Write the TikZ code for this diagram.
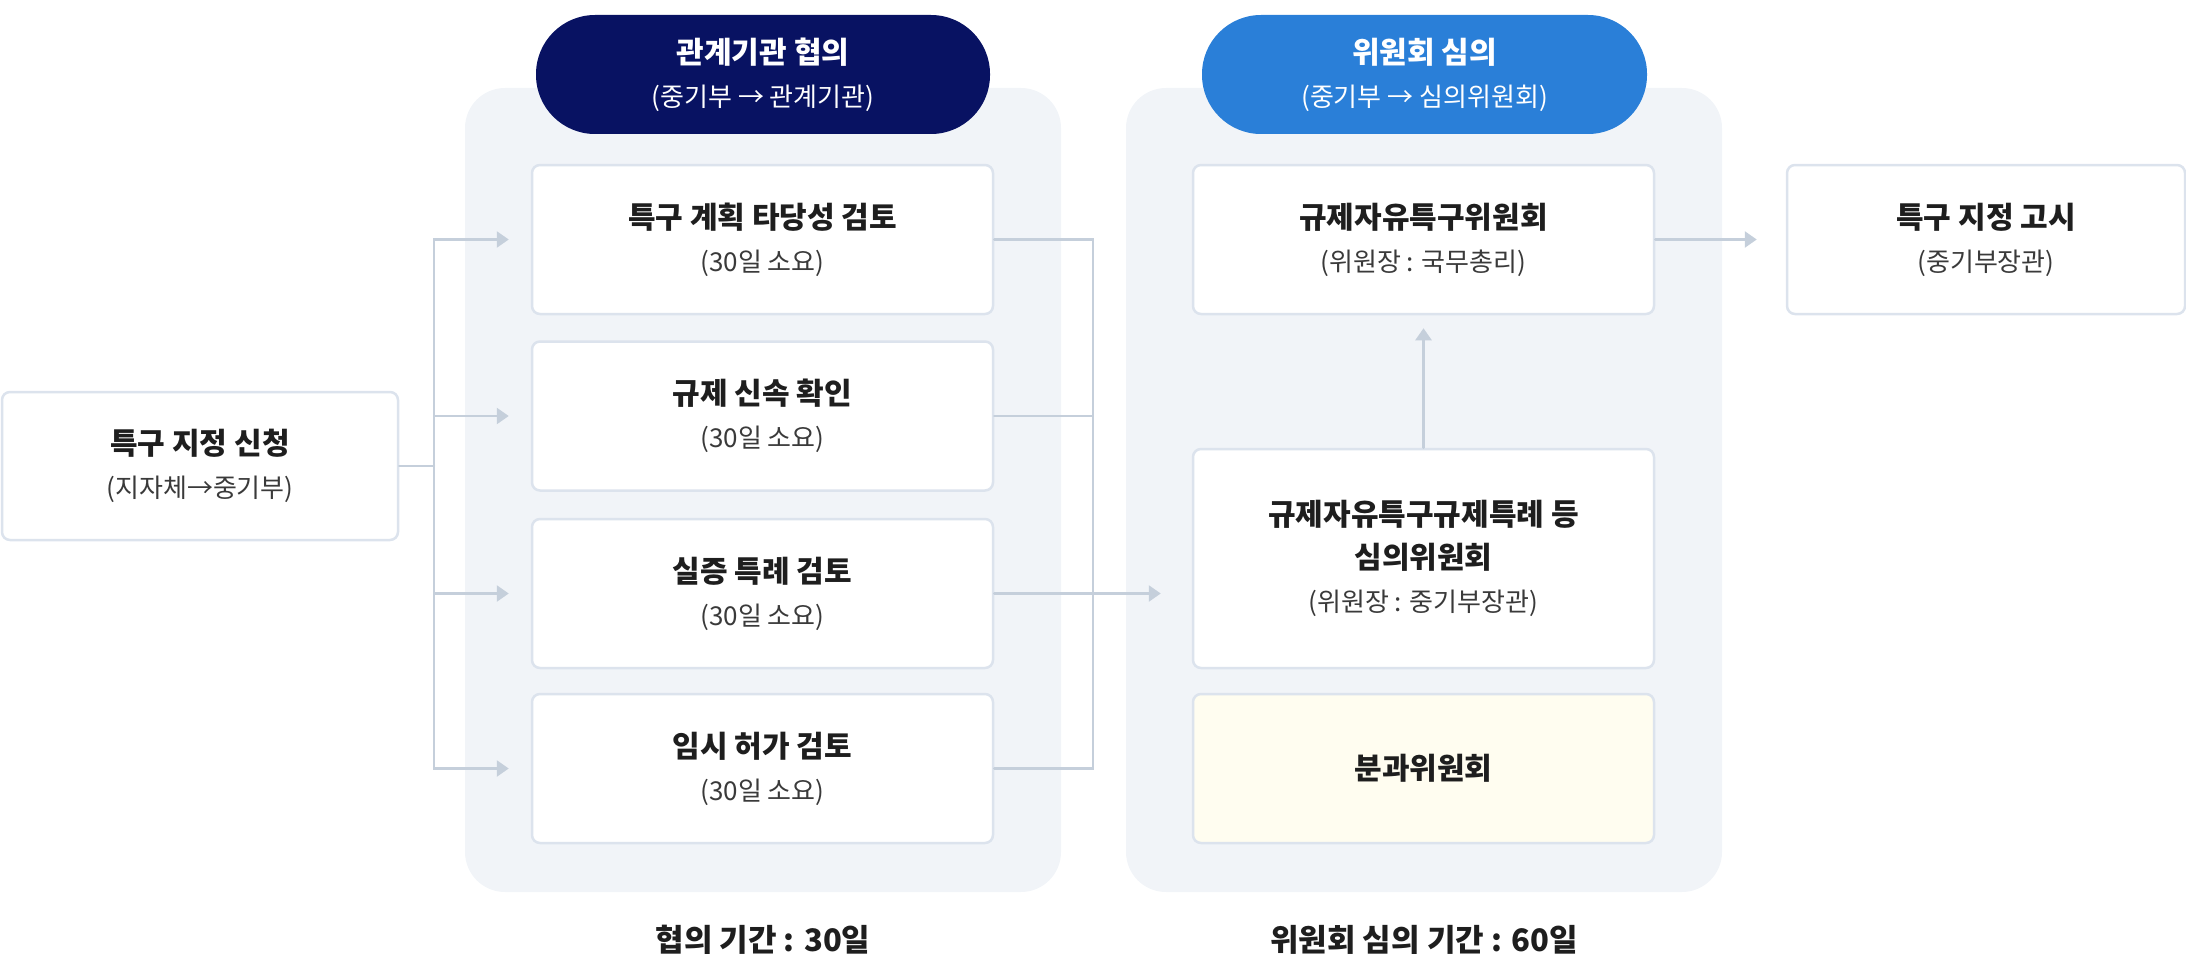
\documentclass[tikz,border=0pt]{standalone}
\usepackage{fontspec}
\setmainfont{Noto Sans CJK KR}
\usetikzlibrary{arrows.meta,positioning}
\definecolor{panelbg}{HTML}{F1F4F8}
\definecolor{cardline}{HTML}{DCE3ED}
\definecolor{linkgray}{HTML}{C5CFDB}
\definecolor{navypill}{HTML}{081262}
\definecolor{bluepill}{HTML}{2A7FD8}
\definecolor{paleyellow}{HTML}{FFFDF0}
\definecolor{inkdark}{HTML}{1E1E1E}
\definecolor{inksub}{HTML}{3A3A3A}
\newcommand{\subtxt}{\mdseries\fontsize{26}{43}\selectfont}

\begin{document}
\begin{tikzpicture}[x=1pt, y=-1pt, line cap=round,
  card/.style={draw=cardline, line width=2.5pt, fill=white, rounded corners=8pt,
    minimum width=461pt, minimum height=149pt, inner sep=0pt, align=center,
    text=inkdark, font=\bfseries\fontsize{30}{43}\selectfont},
  pill/.style={rounded corners=59pt, minimum height=119pt, inner sep=0pt,
    align=center, text=white, font=\bfseries\fontsize{30}{43}\selectfont},
  link/.style={draw=linkgray, line width=2.5pt},
  flow/.style={link, -{Triangle[length=12pt,width=16pt]}}]
  \useasboundingbox (0,0) rectangle (2186,979);

  % Panels
  \fill[panelbg, rounded corners=40pt] (465,88) rectangle (1061,892);
  \fill[panelbg, rounded corners=40pt] (1126,88) rectangle (1722,892);

  % Headers
  \node[pill, fill=navypill, minimum width=454pt] (consult) at (763,74.5)
    {관계기관 협의\\{\subtxt (중기부 → 관계기관)}};
  \node[pill, fill=bluepill, minimum width=445pt] (deliberate) at (1424.5,74.5)
    {위원회 심의\\{\subtxt (중기부 → 심의위원회)}};

  % Cards
  \node[card, minimum width=396pt, minimum height=148pt] (apply) at (200,466)
    {특구 지정 신청\\{\subtxt\color{inksub}(지자체→중기부)}};
  \node[card] (review1) at (762.5,239.5) {특구 계획 타당성 검토\\{\subtxt\color{inksub}(30일 소요)}};
  \node[card] (review2) at (762.5,416) {규제 신속 확인\\{\subtxt\color{inksub}(30일 소요)}};
  \node[card] (review3) at (762.5,593.5) {실증 특례 검토\\{\subtxt\color{inksub}(30일 소요)}};
  \node[card] (review4) at (762.5,768.5) {임시 허가 검토\\{\subtxt\color{inksub}(30일 소요)}};
  \node[card] (rfz) at (1423.5,239.5) {규제자유특구위원회\\{\subtxt\color{inksub}(위원장 : 국무총리)}};
  \node[card, minimum height=219pt] (special) at (1423.5,558.5)
    {규제자유특구규제특례 등\\심의위원회\\{\subtxt\color{inksub}(위원장 : 중기부장관)}};
  \node[card, fill=paleyellow] (subcom) at (1423.5,768.5) {분과위원회};
  \node[card, minimum width=398pt] (notice) at (1986,239.5)
    {특구 지정 고시\\{\subtxt\color{inksub}(중기부장관)}};

  % Connectors
  \coordinate (fork) at (434,466);
  \coordinate (merge) at (1093,593.5);
  \draw[link] (apply.east) -- (fork);
  \foreach \n in {1,...,4} {
    \draw[flow, shorten >=22pt] (fork) |- (review\n.west);
    \draw[link] (review\n.east) -| (merge);
  }
  \draw[flow, shorten >=31pt] (merge) -- (merge -| special.west);
  \draw[flow, shorten >=13pt] (special.north) -- (rfz.south);
  \draw[flow, shorten >=29pt] (rfz.east) -- (notice.west);

  % Periods
  \node[text=inkdark, font=\bfseries\fontsize{31}{36}\selectfont] (period1) at (763,940) {협의 기간 : 30일};
  \node[text=inkdark, font=\bfseries\fontsize{31}{36}\selectfont] (period2) at (1424,940) {위원회 심의 기간 : 60일};
\end{tikzpicture}
\end{document}
